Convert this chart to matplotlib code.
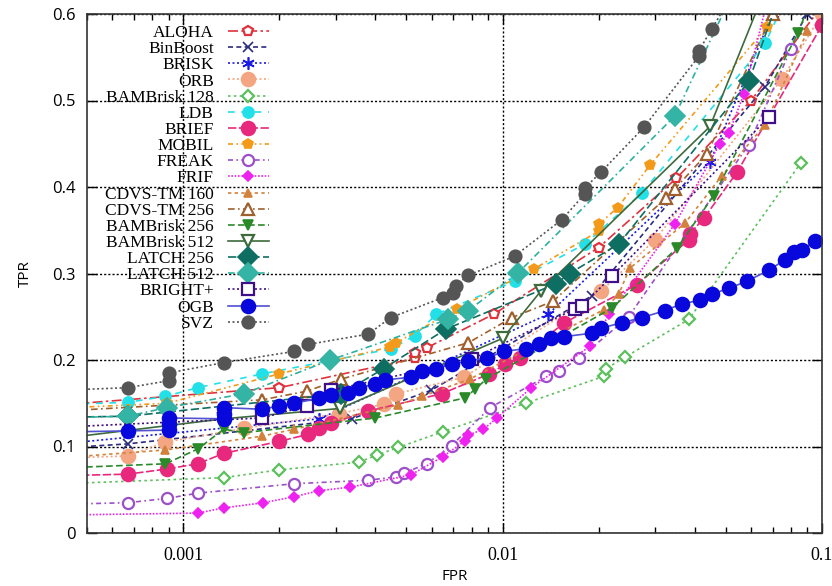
import matplotlib
matplotlib.use("Agg")
import matplotlib.pyplot as plt
from matplotlib.ticker import FixedLocator, NullFormatter, LogLocator

# ---- data (FPR on log axis, TPR) ----
aloha_fpr = [0.0003, 0.002, 0.00533, 0.00533, 0.00578, 0.00938, 0.02, 0.035, 0.06, 0.11]
aloha_tpr = [0.144, 0.168, 0.202, 0.208, 0.214, 0.253, 0.33, 0.41, 0.50, 0.63]

binboost_fpr = [0.0003, 0.00067, 0.00337, 0.00598, 0.019, 0.0663, 0.09]
binboost_tpr = [0.095, 0.103, 0.132, 0.165, 0.274, 0.516, 0.60]

brisk_fpr = [0.0003, 0.00267, 0.0139, 0.0446, 0.07]
brisk_tpr = [0.098, 0.132, 0.253, 0.429, 0.60]

orb_fpr = [0.0003, 0.00067, 0.00088, 0.00155, 0.00308, 0.00424, 0.00465, 0.00755, 0.0204, 0.030, 0.075, 0.1]
orb_tpr = [0.085, 0.089, 0.105, 0.121, 0.138, 0.149, 0.161, 0.180, 0.280, 0.339, 0.525, 0.60]

bam128_fpr = [0.0003, 0.00134, 0.002, 0.00356, 0.00403, 0.00472, 0.00649, 0.0118, 0.0207, 0.0211, 0.0241, 0.0383, 0.0859]
bam128_tpr = [0.055, 0.064, 0.073, 0.082, 0.090, 0.099, 0.117, 0.150, 0.181, 0.190, 0.203, 0.247, 0.428]

ldb_fpr = [0.0003, 0.00067, 0.00088, 0.00111, 0.00177, 0.00449, 0.0053, 0.00621, 0.0109, 0.0181, 0.0273, 0.0663, 0.08]
ldb_tpr = [0.147, 0.151, 0.158, 0.168, 0.184, 0.213, 0.228, 0.253, 0.291, 0.334, 0.393, 0.566, 0.63]

brief_fpr = [0.0003, 0.00067, 0.00089, 0.00111, 0.00134, 0.002, 0.00246, 0.00267, 0.00291, 0.0038,
             0.00645, 0.0091, 0.0102, 0.0113, 0.0156, 0.0263, 0.0383, 0.0386, 0.0427, 0.0542, 0.1]
brief_tpr = [0.065, 0.068, 0.074, 0.080, 0.092, 0.106, 0.114, 0.121, 0.127, 0.141,
             0.161, 0.184, 0.195, 0.202, 0.243, 0.287, 0.339, 0.346, 0.364, 0.417, 0.587]

mobil_fpr = [0.0003, 0.00089, 0.002, 0.00443, 0.00465, 0.00718, 0.0125, 0.02, 0.02, 0.0229, 0.0289, 0.0673, 0.075]
mobil_tpr = [0.142, 0.150, 0.184, 0.215, 0.220, 0.259, 0.305, 0.349, 0.357, 0.376, 0.425, 0.585, 0.62]

freak_fpr = [0.0003, 0.00067, 0.00089, 0.00111, 0.00223, 0.0038, 0.00465, 0.0049, 0.00578, 0.00692,
             0.00915, 0.0137, 0.015, 0.0174, 0.0248, 0.059, 0.08]
freak_tpr = [0.032, 0.035, 0.040, 0.046, 0.057, 0.061, 0.065, 0.069, 0.080, 0.101,
             0.145, 0.181, 0.187, 0.202, 0.250, 0.449, 0.56]

frif_fpr = [0.0003, 0.00111, 0.00134, 0.00178, 0.00223, 0.00267, 0.00333, 0.00515, 0.00649, 0.0076,
            0.0078, 0.00871, 0.0096, 0.0123, 0.0188, 0.0216, 0.0346, 0.0479, 0.0511, 0.0569, 0.068]
frif_tpr = [0.020, 0.023, 0.029, 0.035, 0.042, 0.049, 0.053, 0.067, 0.088, 0.106,
            0.113, 0.120, 0.133, 0.168, 0.216, 0.253, 0.357, 0.450, 0.462, 0.507, 0.62]

cdvs160_fpr = [0.0003, 0.00088, 0.00177, 0.00223, 0.0047, 0.0056, 0.0079, 0.0207, 0.0231, 0.025, 0.0372, 0.0486, 0.0663, 0.09]
cdvs160_tpr = [0.083, 0.096, 0.112, 0.120, 0.148, 0.158, 0.178, 0.258, 0.276, 0.306, 0.358, 0.413, 0.472, 0.58]

cdvs256_fpr = [0.0003, 0.00177, 0.00244, 0.00313, 0.00782, 0.0107, 0.0144, 0.0324, 0.0346, 0.0436, 0.07]
cdvs256_tpr = [0.138, 0.154, 0.164, 0.178, 0.220, 0.249, 0.268, 0.387, 0.398, 0.438, 0.60]

bam256_fpr = [0.0003, 0.00088, 0.00111, 0.00134, 0.00155, 0.004, 0.0076, 0.0082, 0.0089, 0.022, 0.0351, 0.0458, 0.0841, 0.1]
bam256_tpr = [0.073, 0.080, 0.097, 0.120, 0.116, 0.133, 0.156, 0.166, 0.178, 0.260, 0.329, 0.390, 0.578, 0.65]

bam512_fpr = [0.0003, 0.00134, 0.0031, 0.01, 0.0132, 0.0446, 0.065]
bam512_tpr = [0.103, 0.132, 0.144, 0.225, 0.280, 0.470, 0.62]

latch256_fpr = [0.0003, 0.00067, 0.00313, 0.00424, 0.00667, 0.0147, 0.0162, 0.0231, 0.059, 0.075]
latch256_tpr = [0.133, 0.135, 0.161, 0.190, 0.236, 0.288, 0.300, 0.334, 0.522, 0.63]

latch512_fpr = [0.0003, 0.00067, 0.00089, 0.00155, 0.00289, 0.00676, 0.0078, 0.0112, 0.0346, 0.0511]
latch512_tpr = [0.132, 0.135, 0.145, 0.161, 0.200, 0.247, 0.257, 0.301, 0.482, 0.615]

brightp_fpr = [0.0003, 0.00177, 0.00244, 0.00291, 0.008, 0.0168, 0.0177, 0.022, 0.0683]
brightp_tpr = [0.120, 0.133, 0.147, 0.165, 0.201, 0.259, 0.262, 0.297, 0.481]

ogb_fpr = [0.0003, 0.00067, 0.0009, 0.0009, 0.0009, 0.00134, 0.00134, 0.00134, 0.00177, 0.002, 0.00223,
           0.00267, 0.00291, 0.00329, 0.00356, 0.004, 0.00427, 0.00515, 0.00558, 0.00621, 0.00692,
           0.00782, 0.00891, 0.0101, 0.0118, 0.013, 0.0142, 0.0156, 0.019, 0.0204, 0.0236, 0.0273,
           0.0322, 0.0364, 0.0415, 0.0452, 0.0511, 0.0582, 0.0683, 0.0766, 0.0817, 0.0865, 0.095]
ogb_tpr = [0.116, 0.118, 0.119, 0.126, 0.133, 0.132, 0.138, 0.145, 0.143, 0.147, 0.150,
           0.156, 0.160, 0.162, 0.168, 0.172, 0.177, 0.180, 0.187, 0.190, 0.195,
           0.199, 0.202, 0.210, 0.213, 0.218, 0.225, 0.227, 0.231, 0.237, 0.243, 0.249,
           0.257, 0.265, 0.269, 0.276, 0.283, 0.291, 0.304, 0.316, 0.325, 0.327, 0.338]

svz_fpr = [0.0003, 0.00067, 0.0009, 0.0009, 0.00134, 0.00223, 0.00246, 0.0038, 0.00446, 0.00649, 0.00702,
           0.00713, 0.00782, 0.0109, 0.0153, 0.0181, 0.0181, 0.0203, 0.0277, 0.0411, 0.0411, 0.0452, 0.052]
svz_tpr = [0.163, 0.168, 0.176, 0.185, 0.197, 0.210, 0.218, 0.230, 0.249, 0.272, 0.277,
           0.286, 0.298, 0.320, 0.362, 0.392, 0.399, 0.417, 0.469, 0.551, 0.557, 0.583, 0.62]

# label, x, y, line colour, dashes, marker, marker size, filled?, marker colour
series = [
    ("ALOHA", aloha_fpr, aloha_tpr, "#e0323c", (6, 2, 1.5, 2), "p", 7, False, "#e0323c"),
    ("BinBoost", binboost_fpr, binboost_tpr, "#2b2b80", (3, 2), "x", 7, True, "#2b2b80"),
    ("BRISK", brisk_fpr, brisk_tpr, "#1a1ae6", (1.2, 1.5), (6, 2, 0), 9, True, "#1a1ae6"),
    ("ORB", orb_fpr, orb_tpr, "#f4a582", (1.2, 1.5), "o", 10, True, "#f4a582"),
    ("BAMBrisk 128", bam128_fpr, bam128_tpr, "#5cc05c", (1.5, 2), "D", 6, False, "#5cc05c"),
    ("LDB", ldb_fpr, ldb_tpr, "#22e0e8", (4, 4), "o", 8, True, "#22e0e8"),
    ("BRIEF", brief_fpr, brief_tpr, "#e8287c", (5, 1.5), "o", 10, True, "#e8287c"),
    ("MOBIL", mobil_fpr, mobil_tpr, "#f39a1a", (3, 2, 1, 2, 1, 2), "p", 7, True, "#f39a1a"),
    ("FREAK", freak_fpr, freak_tpr, "#9b4fc8", (3, 2, 1, 2), "o", 8, False, "#9b4fc8"),
    ("FRIF", frif_fpr, frif_tpr, "#ee22ee", (1, 1), "D", 5, True, "#ee22ee"),
    ("CDVS-TM 160", cdvs160_fpr, cdvs160_tpr, "#d2823c", (2, 2), "^", 6, True, "#d2823c"),
    ("CDVS-TM 256", cdvs256_fpr, cdvs256_tpr, "#a0602d", (4, 2, 1, 2), "^", 9, False, "#a0602d"),
    ("BAMBrisk 256", bam256_fpr, bam256_tpr, "#2a8a2a", (4, 2), "v", 7, True, "#2a8a2a"),
    ("BAMBrisk 512", bam512_fpr, bam512_tpr, "#3d6b3d", None, "v", 9, False, "#3d6b3d"),
    ("LATCH 256", latch256_fpr, latch256_tpr, "#0e6e62", (5, 2), "D", 10, True, "#0e6e62"),
    ("LATCH 512", latch512_fpr, latch512_tpr, "#2eb0a0", (4, 2, 1, 2), "D", 10, True, "#34b4a4"),
    ("BRIGHT+", brightp_fpr, brightp_tpr, "#3f0f8a", (1.2, 1.5), "s", 8, False, "#3f0f8a"),
    ("OGB", ogb_fpr, ogb_tpr, "#5050d0", None, "o", 10, True, "#0808dc"),
    ("SVZ", svz_fpr, svz_tpr, "#555555", (1.2, 1.5), "o", 9, True, "#555555"),
]

fig = plt.figure(figsize=(8.32, 5.86), dpi=100)
ax = fig.add_axes([87 / 832, 53 / 586, 735 / 832, 519 / 586])

for label, xs, ys, col, dash, mk, ms, filled, mcol in series:
    line, = ax.plot(xs, ys, color=col, lw=1.2, marker=mk, markersize=ms,
                    markeredgecolor=mcol, markeredgewidth=1.6 if not filled else 1.2,
                    markerfacecolor=mcol if filled else "white", label=label)
    if dash is None:
        line.set_linestyle("-")
    else:
        line.set_dashes(dash)

ax.set_xscale("log")
ax.set_xlim(0.0005, 0.1)
ax.set_ylim(0, 0.6)

ax.xaxis.set_major_locator(FixedLocator([0.001, 0.01, 0.1]))
ax.xaxis.set_minor_locator(LogLocator(base=10, subs=range(2, 10)))
ax.xaxis.set_minor_formatter(NullFormatter())
ax.set_xticklabels(["0.001", "0.01", "0.1"], family="Liberation Serif", fontsize=13)
ax.set_yticks([0, 0.1, 0.2, 0.3, 0.4, 0.5, 0.6])
ax.set_yticklabels(["0", "0.1", "0.2", "0.3", "0.4", "0.5", "0.6"], family="Open Sans", fontsize=12)

ax.tick_params(which="both", direction="in", top=True, right=True)
ax.tick_params(which="major", length=7, width=1)
ax.tick_params(which="minor", length=4, width=1)
ax.tick_params(axis="x", pad=10)
ax.tick_params(axis="y", pad=8)

ax.grid(True, which="major", color="black", linestyle=(0, (1.5, 1.5)), linewidth=1.0)
for sp in ax.spines.values():
    sp.set_linewidth(1.2)
    sp.set_color("#333333")

ax.set_xlabel("FPR", family="Open Sans", fontsize=11, labelpad=4)
ax.set_ylabel("TPR", family="Open Sans", fontsize=11, labelpad=14)

leg = ax.legend(loc="upper left", bbox_to_anchor=(0.0245, 0.979), frameon=False, markerfirst=False,
                prop={"family": "Liberation Serif", "size": 12.5}, labelspacing=0.0,
                handlelength=2.4, handletextpad=0.8, borderaxespad=0, borderpad=0,
                numpoints=1)
leg.set_zorder(5)

fig.savefig("out.png", dpi=100, facecolor="white")
